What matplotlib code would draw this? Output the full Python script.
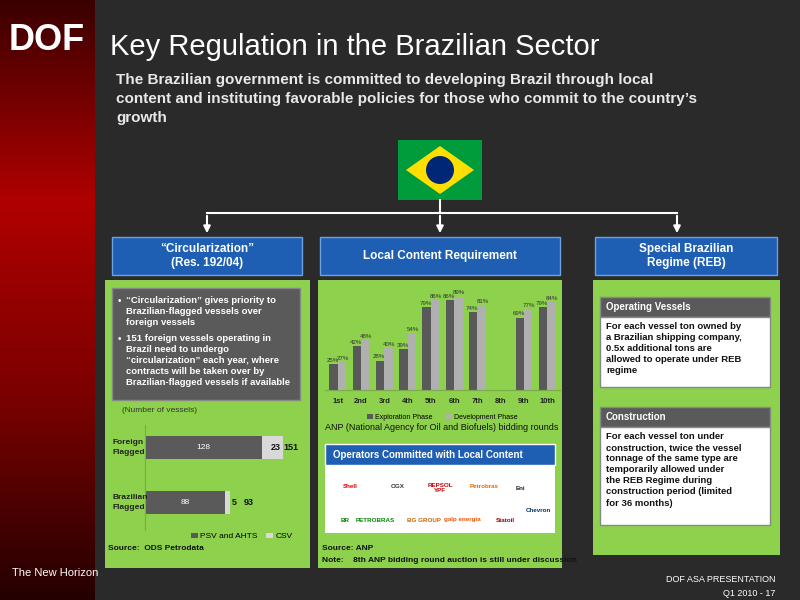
import matplotlib
matplotlib.use("Agg")
import matplotlib.pyplot as plt
from matplotlib.patches import Rectangle, Polygon
from matplotlib.colors import LinearSegmentedColormap
import numpy as np

plt.rcParams['font.family'] = ['Liberation Sans', 'DejaVu Sans']

rounds = ["1st","2nd","3rd","4th","5th","6th","7th","8th","9th","10th"]
exploration = [25,42,28,39,79,86,74,None,69,79]
development = [27,48,40,54,86,89,81,None,77,84]
vessel_cats = ["Brazilian\nFlagged","Foreign\nFlagged"]
psv_ahts = [88,128]
csv_v = [5,23]
totals = [93,151]

W,H = 800,600
fig = plt.figure(figsize=(8,6), dpi=100)
fig.patch.set_facecolor("#2a2a2a")
bg = fig.add_axes([0,0,1,1]); bg.axis("off")

def rect(x,y,w,h,fc,ec="none",lw=0,z=1):
    bg.add_patch(Rectangle((x,y),w,h,fc=fc,ec=ec,lw=lw,zorder=z))
def txt(x,y,s,**k):
    k.setdefault("color","white"); k.setdefault("va","center")
    bg.text(x,y,s,zorder=10,**k)

grad = np.linspace(0,1,256).reshape(-1,1)
cm = LinearSegmentedColormap.from_list("r",["#3a0000","#b00000","#7a0000","#250000"])
bg.imshow(grad, cmap=cm, extent=[0,95,H,0], aspect="auto", zorder=0)
bg.set_xlim(0,W); bg.set_ylim(H,0)
txt(47,40,"DOF",fontsize=26,fontweight="bold",ha="center")
txt(12,573,"The New Horizon",fontsize=8)
txt(110,47,"Key Regulation in the Brazilian Sector",fontsize=21)
for i,l in enumerate(["The Brazilian government is committed to developing Brazil through local",
                      "content and instituting favorable policies for those who commit to the country\u2019s",
                      "growth"]):
    txt(116,80+i*19,l,fontsize=11,fontweight="bold",color="#e8e8e8")
txt(775,580,"DOF ASA PRESENTATION",fontsize=6.5,ha="right")
txt(775,594,"Q1 2010 - 17",fontsize=6.5,ha="right")

rect(398,140,84,60,"#009b3a")
bg.add_patch(Polygon([(406,170),(440,146),(474,170),(440,194)],fc="#fedf00",zorder=2))
bg.add_patch(plt.Circle((440,170),14,fc="#002776",zorder=3))
bg.plot([440,440],[200,213],color="white",lw=1.5,zorder=2)
bg.plot([207,677],[213,213],color="white",lw=1.5,zorder=2)
for x in (207,440,677):
    bg.annotate("",xy=(x,236),xytext=(x,213),arrowprops=dict(arrowstyle="-|>",color="white",lw=1.5),zorder=2)

for (x,w,t) in [(112,190,"\u201cCircularization\u201d\n(Res. 192/04)"),(320,240,"Local Content Requirement"),(595,182,"Special Brazilian\nRegime (REB)")]:
    rect(x,237,w,38,"#1e5fb4",ec="#6fa0e0",lw=1,z=2)
    txt(x+w/2,256,t,fontsize=8.5,fontweight="bold",ha="center",linespacing=1.3)

green="#8ed14c"
for (x,w) in [(105,205),(318,244),(593,187)]:
    rect(x,280,w,288 if x<590 else 275,green,z=1)

rect(112,288,188,112,"#5a5a5a",ec="#888888",lw=1,z=2)
txt(118,296,"\u2022",fontsize=7,va="top")
txt(126,296,"\u201cCircularization\u201d gives priority to\nBrazilian-flagged vessels over\nforeign vessels",fontsize=6.8,fontweight="bold",va="top",linespacing=1.3)
txt(118,334,"\u2022",fontsize=7,va="top")
txt(126,334,"151 foreign vessels operating in\nBrazil need to undergo\n\u201ccircularization\u201d each year, where\ncontracts will be taken over by\nBrazilian-flagged vessels if available",fontsize=6.8,fontweight="bold",va="top",linespacing=1.3)
txt(122,411,"(Number of vessels)",fontsize=6,color="#333333")
txt(108,549,"Source:  ODS Petrodata",fontsize=6,color="#111111",fontweight="bold",ha="left")

ax1 = fig.add_axes([145/W,1-530/H,155/W,105/H])
ax1.set_facecolor("none")
y = np.arange(len(vessel_cats))
ax1.barh(y,psv_ahts,height=0.42,color="#5a5a5a",label="PSV and AHTS")
ax1.barh(y,csv_v,left=psv_ahts,height=0.42,color="#d9d9d9",label="CSV")
for i in range(len(y)):
    ax1.text(psv_ahts[i]/2,y[i],str(psv_ahts[i]),color="white",fontsize=6,ha="center",va="center")
    ax1.text(psv_ahts[i]+csv_v[i]+(-13 if i==1 else 2),y[i],str(csv_v[i]),fontsize=6.5,fontweight="bold",va="center",color="#111")
    ax1.text(psv_ahts[i]+csv_v[i]+(1 if i==1 else 15),y[i],str(totals[i]),fontsize=6.5,fontweight="bold",va="center",color="#111")
    ax1.text(-36,y[i],vessel_cats[i],fontsize=6,fontweight="bold",color="#222",va="center",ha="left",linespacing=1.6)
ax1.set_xlim(0,170); ax1.set_ylim(-0.5,1.4)
ax1.set_yticks([]); ax1.set_xticks([])
for s in ax1.spines.values(): s.set_visible(False)
ax1.spines["left"].set_visible(True); ax1.spines["left"].set_color("#7aaa4a")
ax1.legend(loc="lower right",bbox_to_anchor=(1.0,-0.17),ncol=2,frameon=False,fontsize=6,handlelength=0.8,handletextpad=0.3,columnspacing=1)

ax2 = fig.add_axes([325/W,1-390/H,235/W,105/H])
ax2.set_facecolor("none")
x = np.arange(len(rounds))
e = [v if v is not None else 0 for v in exploration]
d = [v if v is not None else 0 for v in development]
ax2.bar(x-0.18,e,0.36,color="#595959",label="Exploration Phase")
ax2.bar(x+0.18,d,0.36,color="#b0b0b0",label="Development Phase")
for i in range(len(x)):
    if exploration[i] is not None:
        ax2.text(x[i]-0.22,e[i]+2,f"{exploration[i]}%",fontsize=4.4,ha="center",color="#333")
        ax2.text(x[i]+0.22,d[i]+2,f"{development[i]}%",fontsize=4.4,ha="center",color="#333")
ax2.set_xticks(x); ax2.set_xticklabels(rounds,fontsize=5.5,fontweight="bold",color="#222")
ax2.set_yticks([]); ax2.set_ylim(0,100); ax2.set_xlim(-0.55,9.55)
for s in ax2.spines.values(): s.set_visible(False)
ax2.spines["bottom"].set_visible(True); ax2.spines["bottom"].set_color("#7aaa4a")
ax2.tick_params(length=0,pad=6)
ax2.legend(loc="upper center",bbox_to_anchor=(0.5,-0.17),ncol=2,frameon=False,fontsize=5,handlelength=0.8,handletextpad=0.3)
txt(325,428,"ANP (National Agency for Oil and Biofuels) bidding rounds",fontsize=6.5,color="#111")
rect(325,444,230,21,"#1e5fb4",ec="white",lw=1,z=2)
txt(333,455,"Operators Committed with Local Content",fontsize=7,fontweight="bold")
rect(325,465,230,68,"white",z=2)
for (lx,ly,s,c) in [(350,486,"Shell","#d00"),(398,486,"OGX","#333"),(440,488,"REPSOL\nYPF","#c00"),(484,486,"Petrobras","#e60"),(520,488,"Eni","#222"),
                   (345,520,"BR","#080"),(375,520,"PETROBRAS","#080"),(424,520,"BG GROUP","#c60"),(462,520,"galp energia","#e50"),(505,520,"Statoil","#900"),(538,510,"Chevron","#036")]:
    txt(lx,ly,s,fontsize=4.5,color=c,ha="center",fontweight="bold")
txt(322,548,"Source: ANP",fontsize=6,color="#111",fontweight="bold")
txt(322,560,"Note:    8th ANP bidding round auction is still under discussion",fontsize=6,color="#111",fontweight="bold")

for (yy,title,body,hb) in [(297,"Operating Vessels","For each vessel ton owned by\na Brazilian shipping company,\n0.5x additional tons are\nallowed to operate under REB\nregime",70),
                           (407,"Construction","For each vessel ton under\nconstruction, twice the vessel\ntonnage of the same type are\ntemporarily allowed under\nthe REB Regime during\nconstruction period (limited\nfor 36 months)",98)]:
    rect(600,yy,170,20,"#5a5a5a",ec="#888",lw=1,z=2)
    txt(606,yy+10,title,fontsize=7,fontweight="bold")
    rect(600,yy+20,170,hb,"white",ec="#888",lw=1,z=2)
    txt(606,yy+25,body,fontsize=6.8,fontweight="bold",color="#111",va="top",linespacing=1.3)

fig.savefig("out.png",dpi=100,facecolor=fig.get_facecolor())
